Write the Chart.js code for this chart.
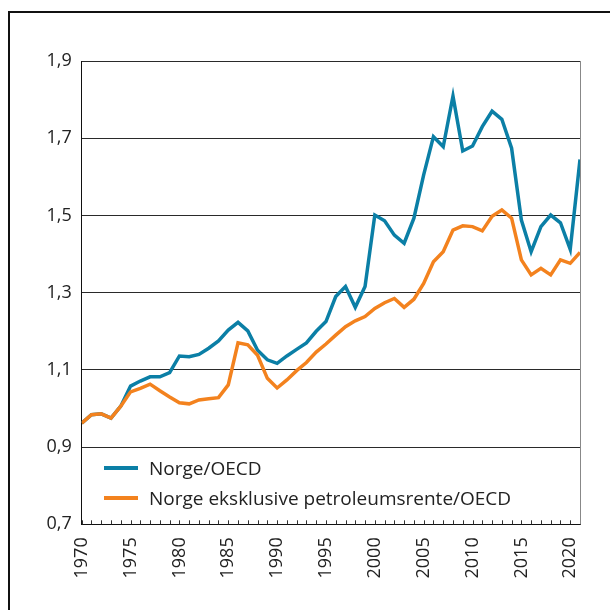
<!DOCTYPE html>
<html>
<head>
<meta charset="utf-8">
<script src="https://cdn.jsdelivr.net/npm/chart.js@4.4.0/dist/chart.umd.min.js"></script>
<style>
  body { margin: 0; background: #fff; }
  #wrap { position: relative; width: 610px; height: 610px; overflow: hidden; }
  #frame { position: absolute; left: 8px; top: 11px; width: 700px; height: 700px;
           border-left: 2px solid #111; border-top: 2px solid #111; }
  #legend { position: absolute; left: 104px; top: 453px; font-family: 'Open Sans', sans-serif;
            font-size: 19px; color: #222; }
  .row { height: 30px; display: flex; align-items: center; }
  .swatch { width: 34px; height: 4px; margin-right: 11px; }
</style>
</head>
<body>
<div id="wrap">
  <div id="frame"></div>
  <canvas id="chart" width="610" height="610"></canvas>
  <div id="legend"></div>
</div>
<script>
const years = [1970, 1971, 1972, 1973, 1974, 1975, 1976, 1977, 1978, 1979,
  1980, 1981, 1982, 1983, 1984, 1985, 1986, 1987, 1988, 1989,
  1990, 1991, 1992, 1993, 1994, 1995, 1996, 1997, 1998, 1999,
  2000, 2001, 2002, 2003, 2004, 2005, 2006, 2007, 2008, 2009,
  2010, 2011, 2012, 2013, 2014, 2015, 2016, 2017, 2018, 2019,
  2020, 2021];

const norge = [0.962, 0.984, 0.986, 0.975, 1.006, 1.058, 1.071, 1.082, 1.082, 1.093,
  1.136, 1.134, 1.140, 1.156, 1.175, 1.203, 1.223, 1.201, 1.151, 1.126,
  1.117, 1.136, 1.153, 1.170, 1.200, 1.225, 1.290, 1.316, 1.262, 1.316,
  1.501, 1.486, 1.449, 1.428, 1.493, 1.605, 1.704, 1.678, 1.809, 1.667,
  1.680, 1.730, 1.770, 1.749, 1.674, 1.488, 1.406, 1.471, 1.501, 1.481,
  1.412, 1.645];

const utenPetroleum = [0.962, 0.984, 0.986, 0.975, 1.006, 1.043, 1.052, 1.063, 1.046, 1.030,
  1.015, 1.012, 1.022, 1.025, 1.028, 1.061, 1.170, 1.165, 1.138, 1.078,
  1.053, 1.074, 1.098, 1.119, 1.146, 1.167, 1.190, 1.212, 1.227, 1.238,
  1.259, 1.274, 1.285, 1.262, 1.283, 1.324, 1.380, 1.406, 1.462, 1.473,
  1.471, 1.460, 1.498, 1.514, 1.493, 1.385, 1.346, 1.363, 1.346, 1.385,
  1.376, 1.404];

const seriesLabels = ['Norge/OECD', 'Norge eksklusive petroleumsrente/OECD'];
const seriesColors = ['#0b7fa6', '#f3821e'];

const yTicks = [0.7, 0.9, 1.1, 1.3, 1.5, 1.7, 1.9];

Chart.defaults.font.family = "'Open Sans', sans-serif";
Chart.defaults.font.size = 18;
Chart.defaults.color = '#222';

// small inward tick marks on the year axis + grey right edge of the plot
const frameBits = {
  id: 'frameBits',
  afterDraw(chart) {
    const { ctx, chartArea, scales } = chart;
    ctx.save();
    ctx.strokeStyle = '#333';
    ctx.lineWidth = 1;
    scales.x.ticks.forEach(t => {
      const px = Math.round(scales.x.getPixelForValue(t.value)) + 0.5;
      ctx.beginPath();
      ctx.moveTo(px, chartArea.bottom);
      ctx.lineTo(px, chartArea.bottom - 4);
      ctx.stroke();
    });
    ctx.strokeStyle = '#888';
    ctx.beginPath();
    ctx.moveTo(chartArea.right + 0.5, chartArea.top);
    ctx.lineTo(chartArea.right + 0.5, chartArea.bottom);
    ctx.stroke();
    ctx.restore();
  }
};

const toPoints = arr => arr.map((v, i) => ({ x: years[i], y: v }));

const chart = new Chart(document.getElementById('chart'), {
  type: 'line',
  data: {
    datasets: [
      { label: seriesLabels[0], data: toPoints(norge), borderColor: seriesColors[0], order: 2 },
      { label: seriesLabels[1], data: toPoints(utenPetroleum), borderColor: seriesColors[1], order: 1 }
    ]
  },
  options: {
    responsive: false,
    animation: false,
    events: [],
    elements: {
      line: { borderWidth: 3.5, tension: 0 },
      point: { radius: 0 }
    },
    layout: { padding: { top: 61, right: 30, left: 0, bottom: 0 } },
    plugins: { legend: { display: false }, tooltip: { enabled: false } },
    scales: {
      x: {
        type: 'linear',
        min: years[0],
        max: years[years.length - 1],
        grid: { display: false, drawTicks: false },
        border: { color: '#111', width: 1 },
        ticks: {
          stepSize: 1,
          autoSkip: false,
          minRotation: 90,
          maxRotation: 90,
          padding: 13,
          callback: v => (v % 5 === 0 ? String(v) : '')
        },
        afterFit(scale) {
          scale.height = 85.7;
          scale.paddingLeft = 0;
          scale.paddingRight = 0;
        }
      },
      y: {
        min: yTicks[0],
        max: yTicks[yTicks.length - 1],
        grid: { color: '#2a2a2a', lineWidth: 1, drawTicks: false },
        border: { color: '#111', width: 1 },
        afterBuildTicks(scale) {
          scale.ticks = yTicks.map(v => ({ value: v }));
        },
        ticks: {
          padding: 10,
          callback: v => Number(v).toFixed(1).replace('.', ',')
        },
        afterFit(scale) {
          scale.width = 81.7;
          scale.paddingTop = 0;
          scale.paddingBottom = 0;
        }
      }
    }
  },
  plugins: [frameBits]
});

// legend rows inside the plot area
const legend = document.getElementById('legend');
chart.data.datasets.forEach(ds => {
  const row = document.createElement('div');
  row.className = 'row';
  const sw = document.createElement('span');
  sw.className = 'swatch';
  sw.style.background = ds.borderColor;
  const txt = document.createElement('span');
  txt.textContent = ds.label;
  row.appendChild(sw);
  row.appendChild(txt);
  legend.appendChild(row);
});
</script>
</body>
</html>
